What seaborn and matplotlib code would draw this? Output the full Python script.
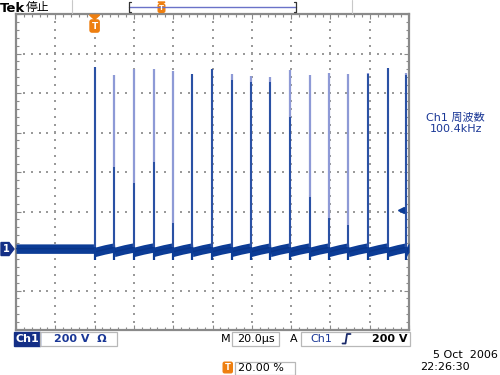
import numpy as np
import pandas as pd
import seaborn as sns
import matplotlib
matplotlib.use("Agg")
import matplotlib.pyplot as plt
from matplotlib.patches import Polygon, Rectangle, FancyBboxPatch

spike_times_us = [40.2, 50.1, 60.0, 70.0, 79.9, 89.8, 99.7, 109.7, 119.6,
                  129.5, 139.4, 149.4, 159.3, 169.2, 179.1, 189.1, 198.7]
spike_peak_v = [923, 881, 909, 909, 899, 885, 911, 885, 877,
                869, 908, 881, 893, 886, 893, 915, 890]
spike_dark_top_v = [923, 415, 334, 440, 132, 885, 911, 856, 846,
                    846, 668, 263, 157, 122, 886, 916, 881]
baseline_flat_v = 2
baseline_pre_v = 8
baseline_mid_v = -2
baseline_post_v = -14
noise_halfwidth_v = 24
volts_per_div = 200
time_per_div_us = 20
ground_div = -1.95
trigger_level_v = 200
trigger_pos_pct = 20
freq_label = ["Ch1 周波数", "100.4kHz"]
bottom_texts = ["Ch1", "200 V  Ω", "M", "20.0µs", "A", "Ch1", "200 V"]
date_texts = ["5 Oct  2006", "22:26:30"]
trig_pct_text = "20.00 %"

DARK = "#0c3c96"
LIGHT = "#8e9ad6"
TXT = "#1a3796"
ORANGE = "#ee7f10"

sns.set_theme(style="white")
plt.rcParams["font.family"] = ["DejaVu Sans", "Noto Sans CJK JP"]

fig = plt.figure(figsize=(5, 3.75), dpi=100)
fig.patch.set_facecolor("white")
ax = fig.add_axes([16 / 500, 45 / 375, 393 / 500, 316 / 375])
ymin = (-4 - ground_div) * volts_per_div
ymax = (4 - ground_div) * volts_per_div
xmax = 10 * time_per_div_us
ax.set_xlim(0, xmax)
ax.set_ylim(ymin, ymax)
ax.set_facecolor("white")

# ticks on frame edges
ax.set_xticks(np.arange(0, xmax + 0.1, time_per_div_us))
ax.set_xticks(np.arange(0, xmax + 0.1, time_per_div_us / 5), minor=True)
ax.set_yticks(ymin + np.arange(0, 8.01, 1) * volts_per_div)
ax.set_yticks(ymin + np.arange(0, 8.01, 0.2) * volts_per_div, minor=True)
ax.tick_params(which="both", direction="in", top=True, right=True, bottom=True, left=True,
               labelbottom=False, labelleft=False, color="#8a8a8a", width=0.8)
ax.tick_params(which="major", length=3.5)
ax.tick_params(which="minor", length=2.5)
for s in ax.spines.values():
    s.set_color("#8a8a8a")
    s.set_linewidth(1.6)

# dotted graticule
gx, gy = [], []
for k in range(1, 10):
    for j in np.arange(0.2, 8, 0.2):
        gx.append(k * time_per_div_us)
        gy.append(ymin + j * volts_per_div)
for j in range(1, 8):
    for k in np.arange(0.2, 10, 0.2):
        gx.append(k * time_per_div_us)
        gy.append(ymin + j * volts_per_div)
ax.scatter(gx, gy, s=1.3, marker="s", color="#9a9a9a", linewidths=0, zorder=1)

# baseline trace (thick noisy band)
bt = [0, spike_times_us[0]]
bv = [baseline_flat_v, baseline_flat_v]
for i, t in enumerate(spike_times_us):
    nxt = spike_times_us[i + 1] if i + 1 < len(spike_times_us) else xmax
    bt += [t + 0.15, (t + nxt) / 2, nxt]
    bv += [baseline_post_v, baseline_mid_v, baseline_pre_v]
base = pd.DataFrame({"t": bt, "v": bv})
ax.fill_between(base["t"], base["v"] - noise_halfwidth_v, base["v"] + noise_halfwidth_v,
                color=DARK, linewidth=0, zorder=3)
sns.lineplot(data=base, x="t", y="v", ax=ax, color="#0a3588", linewidth=1.0,
             sort=False, estimator=None, zorder=3)

# spikes
ax.vlines(spike_times_us, baseline_pre_v, spike_peak_v, color=LIGHT, linewidth=1.6, zorder=4)
ax.vlines(spike_times_us, baseline_pre_v, spike_dark_top_v, color=DARK, linewidth=1.1, zorder=5)
ax.vlines(spike_times_us, baseline_post_v - 40, baseline_pre_v, color=DARK, linewidth=1.6, zorder=5)
ax.set_xlabel("")
ax.set_ylabel("")

# trigger level arrow
ax.plot([196], [trigger_level_v], marker="<", markersize=4.5, color=DARK, zorder=6)

# ---------------- overlay in pixel coordinates ----------------
ov = fig.add_axes([0, 0, 1, 1], facecolor="none")
ov.set_xlim(0, 500)
ov.set_ylim(375, 0)
ov.axis("off")
ov.set_zorder(10)

def px(x_data, y_data):
    d = ax.transData.transform((x_data, y_data))
    return d[0], 375 - d[1]

# ground marker
_, gpy = px(0, 0)
ov.add_patch(Polygon([(1, gpy - 6.5), (9, gpy - 6.5), (14, gpy), (9, gpy + 6.5), (1, gpy + 6.5)],
                     closed=True, color="#142f86"))
ov.text(6.5, gpy + 0.3, "1", color="white", fontsize=7, fontweight="bold", ha="center", va="center")

# trigger position marker
tpx, _ = px(trigger_pos_pct / 100 * xmax, 0)
ov.add_patch(Polygon([(tpx - 5, 15), (tpx + 5, 15), (tpx, 19.5)], closed=True, color=ORANGE))
ov.add_patch(FancyBboxPatch((tpx - 4, 20.5), 8, 11, boxstyle="round,pad=0.6,rounding_size=2",
                            color=ORANGE))
ov.text(tpx, 26.5, "T", color="white", fontsize=6.5, fontweight="bold", ha="center", va="center")

# top status bar
ov.text(0, 8, "Tek", fontsize=9.5, fontweight="bold", color="black", va="center", ha="left")
ov.text(26, 8, "停止", fontsize=8.5, color="black", va="center", ha="left",
        family=["Noto Sans CJK JP", "DejaVu Sans"])
ov.plot([72, 72], [0, 13], color="#c8c8c8", lw=0.8)
ov.plot([352, 352], [0, 13], color="#c8c8c8", lw=0.8)
ov.plot([129, 296], [6.5, 6.5], color="#6a72c8", lw=1.0)
ov.plot([131, 129, 129, 131], [1.5, 1.5, 11.5, 11.5], color="#333", lw=0.9)
ov.plot([294, 296, 296, 294], [1.5, 1.5, 11.5, 11.5], color="#333", lw=0.9)
ov.add_patch(Polygon([(158, 2), (165, 2), (161.5, 4.5)], closed=True, color=ORANGE))
ov.add_patch(FancyBboxPatch((158.5, 4.5), 6, 7.5, boxstyle="round,pad=0.3,rounding_size=1.5",
                            color=ORANGE))
ov.text(161.5, 8.5, "T", color="white", fontsize=5, fontweight="bold", ha="center", va="center")

# right side measurement
ov.text(455, 117.5, freq_label[0], color=TXT, fontsize=8, ha="center", va="center",
        family=["DejaVu Sans", "Noto Sans CJK JP"])
ov.text(456, 129.5, freq_label[1], color=TXT, fontsize=8, ha="center", va="center")

# bottom readouts
ov.add_patch(Rectangle((14, 331.5), 26, 14, color="#142f86"))
ov.text(27, 338.8, bottom_texts[0], color="white", fontsize=8, fontweight="bold",
        ha="center", va="center")
ov.add_patch(Rectangle((40, 331.5), 77, 14, fill=False, edgecolor="#b8b8b8", lw=0.9))
ov.text(80, 338.8, bottom_texts[1], color=TXT, fontsize=8, fontweight="bold",
        ha="center", va="center")
ov.text(226, 338.8, bottom_texts[2], color="black", fontsize=8, ha="center", va="center")
ov.add_patch(Rectangle((232, 331.5), 47, 14, fill=False, edgecolor="#b8b8b8", lw=0.9))
ov.text(255.5, 338.8, bottom_texts[3], color="black", fontsize=8, ha="center", va="center")
ov.text(294, 338.8, bottom_texts[4], color="black", fontsize=8, ha="center", va="center")
ov.add_patch(Rectangle((300.5, 331.5), 109, 14, fill=False, edgecolor="#b8b8b8", lw=0.9))
ov.text(321, 338.8, bottom_texts[5], color=TXT, fontsize=8, ha="center", va="center")
ov.plot([342.5, 345.5, 347, 350.5], [343.5, 343.5, 334, 334], color="#1a2a6a", lw=1.3)
ov.text(408, 338.8, bottom_texts[6], color="black", fontsize=8, fontweight="bold",
        ha="right", va="center")

ov.text(498, 355.5, date_texts[0], color="black", fontsize=8, ha="right", va="center")
ov.text(420, 367.5, date_texts[1], color="black", fontsize=8, ha="left", va="center")

ov.add_patch(FancyBboxPatch((223.5, 362.5), 8.5, 10, boxstyle="round,pad=0.3,rounding_size=1.5",
                            color=ORANGE))
ov.text(227.8, 367.8, "T", color="white", fontsize=6, fontweight="bold", ha="center", va="center")
ov.add_patch(Rectangle((235, 361.5), 60, 13, fill=False, edgecolor="#b8b8b8", lw=0.9))
ov.text(238, 368, trig_pct_text, color="black", fontsize=8, ha="left", va="center")

fig.savefig("out.png", dpi=100, facecolor="white")
